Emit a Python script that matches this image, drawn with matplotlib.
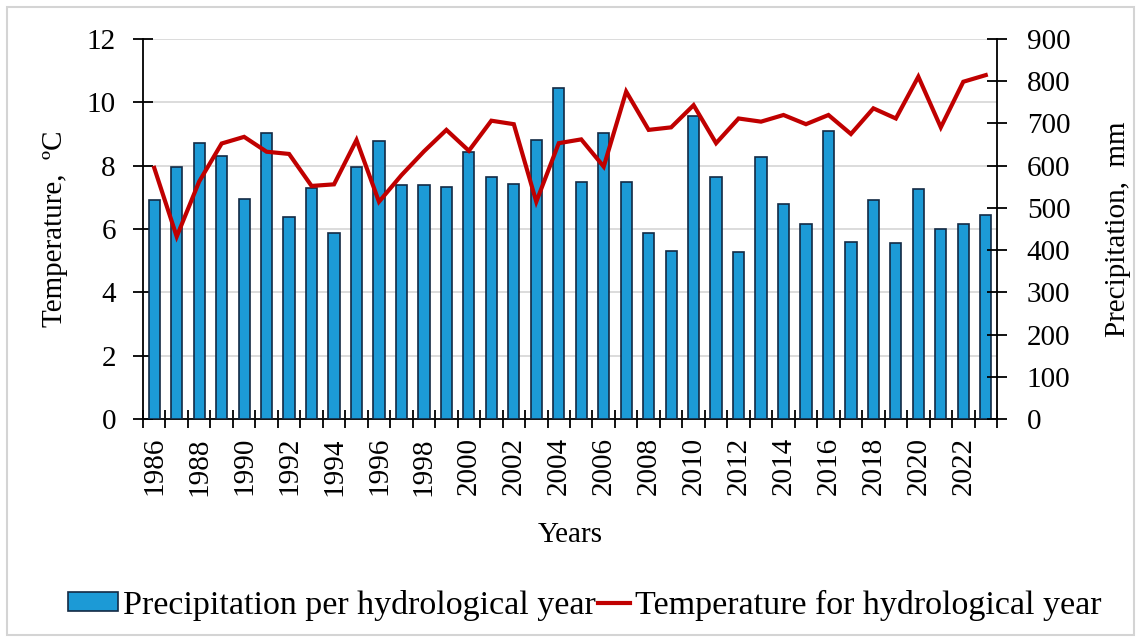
import matplotlib
matplotlib.use("Agg")
import matplotlib.pyplot as plt
import matplotlib.patches as mpatches
from matplotlib.lines import Line2D
from matplotlib.legend_handler import HandlerPatch
import numpy as np

years = list(range(1986, 2024))
precipitation = [519, 598, 654, 623, 520, 677, 479, 546, 440, 598, 658, 554, 554,
                 549, 633, 572, 556, 661, 783, 562, 677, 562, 440, 399, 718,
                 572, 396, 620, 509, 462, 682, 420, 519, 418, 544, 449, 461, 482]
temperature = [7.93, 5.76, 7.5, 8.70, 8.91, 8.44, 8.37, 7.36, 7.41, 8.81, 6.86, 7.7, 8.45,
               9.13, 8.47, 9.42, 9.31, 6.86, 8.71, 8.83, 7.97, 10.34, 9.13, 9.21, 9.91,
               8.71, 9.49, 9.39, 9.60, 9.31, 9.60, 9.0, 9.81, 9.49, 10.81, 9.21, 10.65, 10.86]
temp_ticks = [0, 2, 4, 6, 8, 10, 12]
prec_ticks = list(range(0, 1000, 100))

BAR_COLOR = "#1c9ad6"
BAR_EDGE = "#132a44"
LINE_COLOR = "#c00000"
FS = 21

plt.rcParams["font.family"] = ["Liberation Serif", "DejaVu Serif"]

fig = plt.figure(figsize=(11.4, 6.39), dpi=100)
fig.patches.append(mpatches.Rectangle((7 / 1140, 4 / 639), 1127 / 1140, 628 / 639,
                                      transform=fig.transFigure, fill=False,
                                      edgecolor="#d4d4d4", linewidth=1.5))

pos = [143 / 1140, 1 - 419 / 639, 854 / 1140, 380 / 639]
ax_t = fig.add_axes(pos)
ax_p = ax_t.twinx()
ax_l = fig.add_axes(pos, sharex=ax_t, sharey=ax_t, frameon=False)

x = np.arange(len(years))

# temperature axis (left) with grid
ax_t.set_ylim(0, 12)
ax_t.set_yticks(temp_ticks)
ax_t.grid(axis="y", color="#d9d9d9", linewidth=1.3)
ax_t.set_axisbelow(True)
ax_t.set_xlim(-0.5, len(years) - 0.5)
ax_t.set_zorder(1)
ax_p.set_zorder(2)
ax_l.set_zorder(3)
ax_p.patch.set_visible(False)

# precipitation bars (right axis)
ax_p.bar(x, precipitation, width=0.5, color=BAR_COLOR, edgecolor=BAR_EDGE, linewidth=1.2)
ax_p.set_ylim(0, 900)
ax_p.set_yticks(prec_ticks)

# temperature line
ax_l.plot(x, temperature, color=LINE_COLOR, linewidth=3.0, solid_joinstyle="miter")

for a in (ax_t, ax_p):
    a.spines["top"].set_visible(False)
ax_t.spines["right"].set_visible(False)
ax_p.spines["left"].set_visible(False)
ax_p.spines["bottom"].set_visible(False)
for a in (ax_t, ax_p):
    for s in a.spines.values():
        s.set_linewidth(1.3)
        s.set_color("black")

ax_t.tick_params(axis="y", direction="inout", length=15, width=1.3, labelsize=FS, pad=12)
ax_p.tick_params(axis="y", direction="inout", length=15, width=1.3, labelsize=FS, pad=14)

# x axis: ticks at category boundaries, labels every two years
ax_t.set_xticks(np.arange(-0.5, len(years), 1.0))
ax_t.set_xticklabels([])
ax_t.tick_params(axis="x", which="major", direction="inout", length=13, width=1.3)
ax_t.set_xticks(x[::2], minor=True)
ax_t.set_xticklabels([str(y) for y in years[::2]], minor=True, rotation=90)
ax_t.tick_params(axis="x", which="minor", length=0, labelsize=FS, pad=13)

ax_l.tick_params(which="both", left=False, bottom=False, labelleft=False, labelbottom=False)

ax_t.set_ylabel("Temperature,  ºC", fontsize=FS)
ax_t.yaxis.set_label_coords(-0.088, 0.5)
ax_p.set_ylabel("Precipitation,  mm", fontsize=FS)
ax_p.yaxis.set_label_coords(1.127, 0.5)
ax_t.set_xlabel("Years", fontsize=FS)
ax_t.xaxis.set_label_coords(0.5, -0.27)


def wide_patch(legend, orig_handle, xdescent, ydescent, width, height, fontsize):
    extra = 0.55 * width
    return mpatches.Rectangle((-xdescent - extra, -ydescent), width + extra, height)


bar_handle = mpatches.Patch(facecolor=BAR_COLOR, edgecolor=BAR_EDGE, linewidth=1.2)
line_handle = Line2D([], [], color=LINE_COLOR, linewidth=3.0)
fig.legend([bar_handle, line_handle],
           ["Precipitation per hydrological year", "Temperature for hydrological year"],
           loc="center", bbox_to_anchor=(0.521, 1 - 605 / 639), ncol=2, frameon=False,
           fontsize=24.5, handlelength=0.95, handleheight=0.5, handletextpad=0.15,
           columnspacing=0.05, borderaxespad=0,
           handler_map={mpatches.Patch: HandlerPatch(patch_func=wide_patch)})

fig.savefig("out.png", dpi=100)
